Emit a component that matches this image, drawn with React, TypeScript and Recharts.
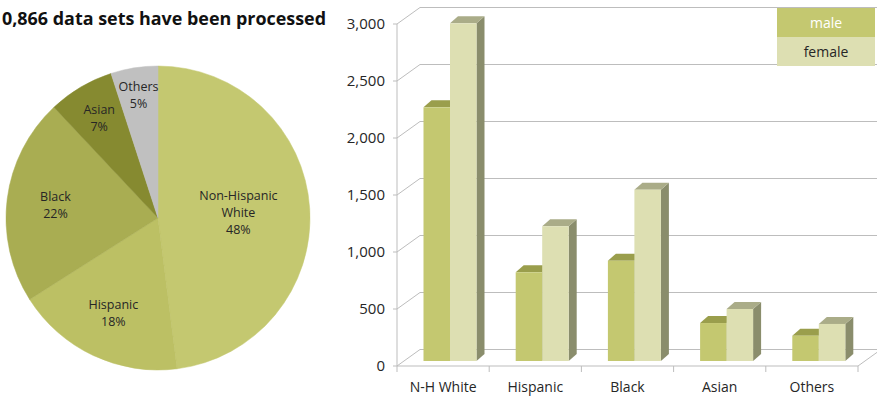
import { PieChart, Pie, Cell, BarChart, Bar, XAxis, YAxis, CartesianGrid, Legend } from 'recharts'

// Share of data sets by group (pie)
const groups = ['Non-Hispanic White', 'Hispanic', 'Black', 'Asian', 'Others']
const groupShares = [48, 18, 22, 7, 5]
const groupColors = ['#c4c870', '#bcc064', '#a9ad52', '#868a30', '#c0c0c0']

// Counts by group and sex (3D columns)
const categories = ['N-H White', 'Hispanic', 'Black', 'Asian', 'Others']
const maleCounts = [2225, 778, 880, 333, 222]
const femaleCounts = [2962, 1182, 1503, 456, 325]
const yTicks = [0, 500, 1000, 1500, 2000, 2500, 3000]
const seriesOrder = ['male', 'female']

const title = '0,866 data sets have been processed'

const FONT = '"Open Sans", sans-serif'
const TEXT = '#262626'
const GRID = '#bdbdbd'

// fake perspective: back wall offset, bar placement depth and bar thickness
const WALL_DX = 23
const WALL_DY = -16.5
const BAR_DX = 6.5
const BAR_DY = -5
const TOP_DX = 8
const TOP_DY = -7

const maleFaces = { front: '#c4c870', top: '#9a9e4c', side: '#868a40' }
const femaleFaces = { front: '#dddfb2', top: '#aaac88', side: '#8a8d6c' }

const pieData = groups.map((name, i) => ({ name, value: groupShares[i] }))
const barData = categories.map((name, i) => ({ name, male: maleCounts[i], female: femaleCounts[i] }))

const labelRadius = [0.53, 0.69, 0.68, 0.76, 0.82]

function renderSliceLabel(props: any) {
  const { cx, cy, midAngle, outerRadius, index, name, value } = props
  const r = outerRadius * labelRadius[index]
  const a = (-midAngle * Math.PI) / 180
  const x = cx + r * Math.cos(a)
  const y = cy + r * Math.sin(a)
  const lines = [...String(name).split(' '), `${value}%`]
  const top = y - ((lines.length - 1) * 17) / 2
  return (
    <text x={x} y={top} textAnchor="middle" fill={TEXT} fontSize={12.5} fontFamily={FONT}>
      {lines.map((l, i) => (
        <tspan key={i} x={x} dy={i === 0 ? '0.35em' : 17}>
          {l}
        </tspan>
      ))}
    </text>
  )
}

function Box3D(props: any) {
  const { x, y, width, height, faces } = props
  if (!height || height <= 0) return null
  const fx = x + BAR_DX
  const fy = y + BAR_DY
  const r = fx + width
  return (
    <g>
      <polygon
        points={`${r},${fy} ${r + TOP_DX},${fy + TOP_DY} ${r + TOP_DX},${fy + height + TOP_DY} ${r},${fy + height}`}
        fill={faces.side}
      />
      <polygon
        points={`${fx},${fy} ${fx + TOP_DX},${fy + TOP_DY} ${r + TOP_DX},${fy + TOP_DY} ${r},${fy}`}
        fill={faces.top}
      />
      <rect x={fx} y={fy} width={width} height={height} fill={faces.front} />
    </g>
  )
}

// side wall diagonal + back wall gridline for each value tick
function wallLine(p: any) {
  const { x1, x2, y1 } = p
  return (
    <g>
      <line x1={x1} y1={y1} x2={x1 + WALL_DX} y2={y1 + WALL_DY} stroke={GRID} strokeWidth={1} />
      <line x1={x1 + WALL_DX} y1={y1 + WALL_DY} x2={x2 + WALL_DX + 10} y2={y1 + WALL_DY} stroke={GRID} strokeWidth={1} />
    </g>
  )
}

function CategoryTick(props: any) {
  const { x, y, payload, index, visibleTicksCount } = props
  const half = payload?.offset ?? 46
  const last = index === visibleTicksCount - 1
  return (
    <g>
      <line x1={x - half} y1={y} x2={x - half} y2={y + 6} stroke={GRID} />
      {last && (
        <>
          <line x1={x + half} y1={y} x2={x + half} y2={y + 6} stroke={GRID} />
          <line x1={x + half} y1={y} x2={x + half + WALL_DX} y2={y + WALL_DY} stroke={GRID} />
        </>
      )}
      <text x={x} y={y + 26} textAnchor="middle" fill={TEXT} fontSize={14} fontFamily={FONT}>
        {payload.value}
      </text>
    </g>
  )
}

const legendText: Record<string, string> = { male: '#ffffff', female: '#262626' }

function SexLegend({ payload }: any) {
  const items = [...(payload || [])].sort(
    (a: any, b: any) => seriesOrder.indexOf(a.dataKey) - seriesOrder.indexOf(b.dataKey),
  )
  return (
    <div style={{ width: 98 }}>
      {items.map((item: any) => (
        <div
          key={item.value}
          style={{
            background: item.color,
            color: legendText[item.value],
            height: 29,
            lineHeight: '29px',
            textAlign: 'center',
            fontSize: 14,
            fontFamily: FONT,
          }}
        >
          {item.value}
        </div>
      ))}
    </div>
  )
}

export default function App() {
  return (
    <div
      style={{
        position: 'absolute',
        left: 0,
        top: 0,
        width: 877,
        height: 396,
        overflow: 'hidden',
        background: '#ffffff',
        fontFamily: FONT,
      }}
    >
      <svg width={340} height={40} style={{ position: 'absolute', left: 0, top: 0 }}>
        <text
          x={2}
          y={25}
          fontSize={18}
          fontWeight={700}
          fill="#111111"
          fontFamily={FONT}
          textLength={324}
          lengthAdjust="spacingAndGlyphs"
        >
          {title}
        </text>
      </svg>

      <div style={{ position: 'absolute', left: 0, top: 0 }}>
        <PieChart width={320} height={396} margin={{ top: 0, right: 0, bottom: 0, left: 0 }}>
          <Pie
            data={pieData}
            dataKey="value"
            nameKey="name"
            cx={158}
            cy={218}
            outerRadius={152}
            startAngle={90}
            endAngle={-270}
            label={renderSliceLabel}
            labelLine={false}
            isAnimationActive={false}
          >
            {pieData.map((d, i) => (
              <Cell key={d.name} fill={groupColors[i]} stroke={groupColors[i]} strokeWidth={0.5} />
            ))}
          </Pie>
        </PieChart>
      </div>

      <div style={{ position: 'absolute', left: 330, top: 0 }}>
        <BarChart
          width={547}
          height={396}
          data={barData}
          margin={{ top: 24, right: 19, bottom: 0, left: 0 }}
          barSize={26.5}
          barGap={0}
        >
          <CartesianGrid vertical={false} horizontal={wallLine} />
          <XAxis
            dataKey="name"
            height={30}
            interval={0}
            tickLine={false}
            tickSize={0}
            tickMargin={0}
            axisLine={{ stroke: GRID }}
            tick={<CategoryTick />}
          />
          <YAxis
            width={67}
            domain={[0, 3000]}
            ticks={yTicks}
            interval={0}
            tickSize={4}
            tickMargin={8}
            tickFormatter={(v: number) => v.toLocaleString('en-US')}
            tick={{ fill: TEXT, fontSize: 15, fontFamily: FONT }}
            axisLine={{ stroke: GRID }}
            tickLine={{ stroke: GRID }}
          />
          <Legend
            layout="vertical"
            align="center"
            verticalAlign="middle"
            content={<SexLegend />}
            wrapperStyle={{ position: 'absolute', top: 8, left: 447, width: 98 }}
          />
          <Bar dataKey="male" fill={maleFaces.front} isAnimationActive={false} shape={(p: any) => <Box3D {...p} faces={maleFaces} />} />
          <Bar dataKey="female" fill={femaleFaces.front} isAnimationActive={false} shape={(p: any) => <Box3D {...p} faces={femaleFaces} />} />
        </BarChart>
      </div>
    </div>
  )
}
